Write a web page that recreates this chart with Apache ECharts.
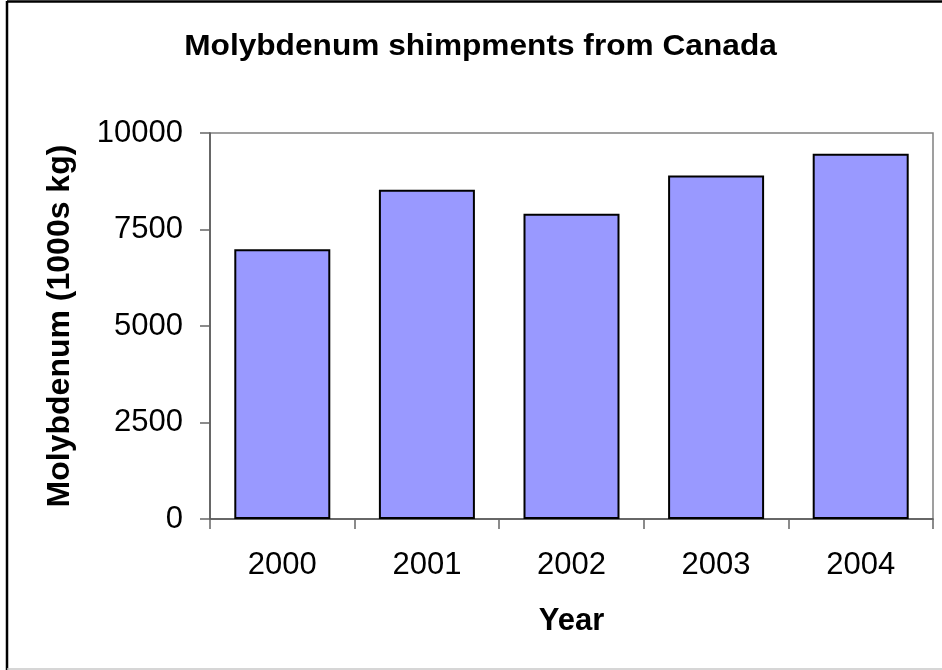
<!DOCTYPE html>
<html>
<head>
<meta charset="utf-8">
<script src="https://cdn.jsdelivr.net/npm/echarts@6/dist/echarts.min.js"></script>
<style>
  html, body { margin: 0; padding: 0; background: #fff; }
  #chart { width: 942px; height: 670px; }
</style>
</head>
<body>
<div id="chart"></div>
<script>
// Annual molybdenum shipments from Canada (thousands of kg)
const years = ['2000', '2001', '2002', '2003', '2004'];
const shipments = [6990, 8530, 7910, 8900, 9460];
const yTicks = [0, 2500, 5000, 7500, 10000];

const FONT = '"Liberation Sans", Arial, sans-serif';
const chart = echarts.init(document.getElementById('chart'), null, { renderer: 'canvas' });

chart.setOption({
  backgroundColor: '#ffffff',
  animation: false,
  grid: {
    left: 210, right: 9, top: 133, bottom: 151,
    show: true,
    borderColor: '#808080',
    borderWidth: 1.5,
    backgroundColor: '#ffffff'
  },
  graphic: [
    // chart frame
    { type: 'line', shape: { x1: 7, y1: 1, x2: 7, y2: 670 }, style: { stroke: '#000', lineWidth: 2.5 } },
    { type: 'line', shape: { x1: 7, y1: 1.5, x2: 942, y2: 1.5 }, style: { stroke: '#000', lineWidth: 2.5 } },
    { type: 'line', shape: { x1: 7, y1: 669, x2: 942, y2: 669 }, style: { stroke: '#c8c8c8', lineWidth: 1.5 } },
    {
      type: 'text',
      x: 480.5, y: 47,
      scaleX: 1.055,
      style: {
        text: 'Molybdenum shimpments from Canada',
        font: 'bold 30px ' + FONT,
        fill: '#000',
        textAlign: 'center',
        textVerticalAlign: 'middle'
      }
    }
  ],
  xAxis: {
    type: 'category',
    data: years,
    boundaryGap: true,
    name: 'Year',
    nameLocation: 'middle',
    nameGap: 87,
    nameTextStyle: { fontFamily: FONT, fontWeight: 'bold', fontSize: 31, color: '#000' },
    axisLine: { show: true, lineStyle: { color: '#555', width: 1.5 } },
    axisTick: { show: true, alignWithLabel: false, length: 10, lineStyle: { color: '#666', width: 1.5 } },
    axisLabel: { fontFamily: FONT, fontSize: 31, color: '#000', margin: 31 },
    splitLine: { show: false }
  },
  yAxis: {
    type: 'value',
    min: yTicks[0],
    max: yTicks[yTicks.length - 1],
    interval: yTicks[1] - yTicks[0],
    name: 'Molybdenum (1000s kg)',
    nameLocation: 'middle',
    nameRotate: 90,
    nameGap: 134,
    nameTextStyle: { fontFamily: FONT, fontWeight: 'bold', fontSize: 32, color: '#000' },
    axisLine: { show: true, lineStyle: { color: '#555', width: 1.5 } },
    axisTick: { show: true, inside: false, length: 10, lineStyle: { color: '#666', width: 1.5 } },
    axisLabel: { fontFamily: FONT, fontSize: 31, color: '#000', margin: 27, formatter: (v) => String(v) },
    splitLine: { show: false }
  },
  series: [{
    type: 'bar',
    data: shipments,
    barWidth: 96,
    itemStyle: { color: '#9999ff', borderColor: '#000', borderWidth: 2 }
  }]
});
</script>
</body>
</html>
